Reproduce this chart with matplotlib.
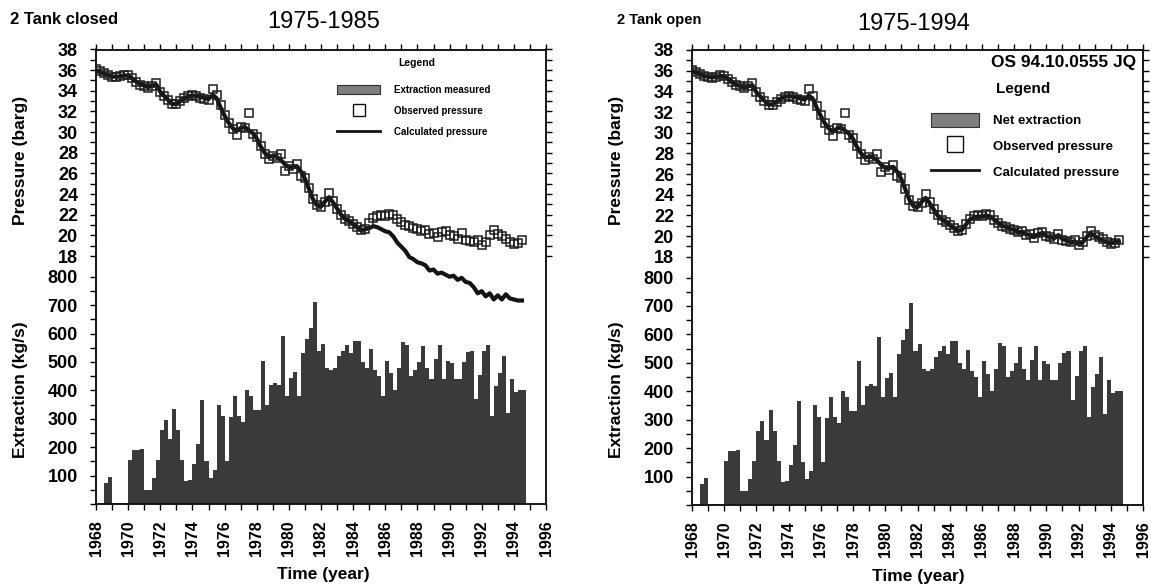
import numpy as np
import matplotlib
matplotlib.use("Agg")
import matplotlib.pyplot as plt
from matplotlib.ticker import FixedLocator, MultipleLocator
from matplotlib.patches import Patch
from matplotlib.lines import Line2D

plt.rcParams['font.family'] = ['Liberation Sans', 'DejaVu Sans']

# ---------------------------------------------------------------- data
# Quarterly extraction rate (kg/s), first quarter starts 1968.5
extraction_start = 1968.5
extraction = [
    75, 95,
    5, 5, 5, 5,
    155, 190, 190, 195,
    50, 50, 90, 155,
    260, 295, 230, 335,
    260, 155, 80, 85,
    140, 210, 365, 150,
    90, 120, 350, 310,
    150, 305, 380, 310,
    290, 400, 380, 330,
    330, 505, 350, 420,
    425, 420, 590, 380,
    445, 465, 380, 530,
    580, 620, 710, 540,
    565, 480, 470, 480,
    520, 540, 560, 530,
    575, 575, 500, 480,
    545, 470, 450, 380,
    505, 460, 400, 480,
    570, 560, 450, 470,
    500, 555, 480, 440,
    510, 560, 440, 505,
    495, 440, 440, 500,
    535, 540, 370, 455,
    540, 560, 310, 415,
    460, 520, 320, 440,
    395, 400, 400,
]

# Quarterly observed reservoir pressure (barg), from 1968.0
pressure_start = 1968.0
observed = [
    36.1, 35.9, 35.7, 35.5,
    35.35, 35.3, 35.4, 35.55,
    35.5, 35.2, 34.9, 34.6,
    34.5, 34.3, 34.5, 34.8,
    33.9, 33.5, 33.1, 32.7,
    32.7, 33.0, 33.3, 33.5,
    33.6, 33.5, 33.3, 33.2,
    33.1, 34.2, 33.6, 32.6,
    31.7, 30.9, 30.3, 29.7,
    30.5, 30.4, 31.9, 29.8,
    29.5, 28.7, 27.9, 27.4,
    27.7, 27.5, 27.9, 26.2,
    26.7, 26.4, 26.9, 25.8,
    25.6, 24.6, 23.5, 22.9,
    22.8, 23.2, 24.1, 23.3,
    22.6, 22.0, 21.6, 21.4,
    21.1, 20.8, 20.5, 20.6,
    21.2, 21.7, 21.9, 22.0,
    21.9, 22.1, 22.0, 21.6,
    21.3, 21.0, 20.9, 20.7,
    20.6, 20.4, 20.5, 20.1,
    20.2, 19.8, 20.3, 20.4,
    20.0, 19.9, 19.7, 20.2,
    19.6, 19.5, 19.4, 19.6,
    19.1, 19.4, 20.0, 20.5,
    20.1, 19.9, 19.7, 19.4,
    19.2, 19.3, 19.6,
]

# Calculated pressure, open two-tank model (barg), from 1968.0
calc_open = [
    36.0, 35.85, 35.7, 35.5,
    35.4, 35.35, 35.4, 35.5,
    35.45, 35.2, 34.9, 34.65,
    34.5, 34.35, 34.5, 34.6,
    33.9, 33.5, 33.1, 32.7,
    32.75, 33.0, 33.3, 33.45,
    33.55, 33.5, 33.4, 33.3,
    33.2, 33.6, 33.3, 32.4,
    31.6, 30.9, 30.4, 30.1,
    30.4, 30.5, 30.2, 29.9,
    29.4, 28.6, 28.0, 27.6,
    27.7, 27.6, 27.3, 26.9,
    26.6, 26.6, 26.7, 26.2,
    25.5, 24.5, 23.5, 22.9,
    22.8, 23.3, 23.7, 23.2,
    22.6, 22.0, 21.6, 21.4,
    21.1, 20.8, 20.5, 20.6,
    21.1, 21.6, 21.8, 21.9,
    21.9, 22.0, 21.9, 21.6,
    21.3, 21.0, 20.9, 20.7,
    20.6, 20.4, 20.4, 20.2,
    20.1, 19.9, 20.2, 20.3,
    20.0, 19.9, 19.8, 20.1,
    19.7, 19.6, 19.4, 19.5,
    19.2, 19.4, 19.9, 20.3,
    20.0, 19.8, 19.6, 19.4,
    19.3, 19.4, 19.5,
]

# Calculated pressure, closed two-tank model, after the 1985 split (barg)
closed_split_year = 1985.0
calc_closed_tail = [
    20.7, 20.9, 20.8, 20.6,
    20.4, 20.3, 19.9, 19.3,
    18.9, 18.5, 17.9, 17.7,
    17.4, 17.3, 17.1, 16.6,
    16.7, 16.3, 16.4, 16.2,
    16.0, 16.1, 15.7, 15.9,
    15.5, 15.4, 15.0, 14.4,
    14.6, 14.1, 14.4, 13.8,
    14.2, 13.8, 14.3, 13.9,
    13.8, 13.7, 13.7,
]

year_ticks = list(range(1968, 1997, 2))
pressure_ticks = list(range(18, 39, 2))
extraction_ticks = list(range(100, 801, 100))

# ---------------------------------------------------------------- layout
W, H = 1151, 587
fig = plt.figure(figsize=(W / 100, H / 100), dpi=100)
fig.patch.set_facecolor('white')

STEP = 0.25
ext_t = extraction_start + STEP * np.arange(len(extraction))
p_t = pressure_start + STEP * np.arange(len(observed))
c_t = pressure_start + STEP * np.arange(len(calc_open))
split_idx = int(round((closed_split_year - pressure_start) / STEP))
closed_t = np.concatenate([c_t[:split_idx],
                           closed_split_year + STEP * np.arange(len(calc_closed_tail))])
calc_closed = list(calc_open[:split_idx]) + calc_closed_tail

BAR = '#3a3a3a'
INK = '#141414'


def add_axes_px(x0, y0, x1, y1):
    return fig.add_axes([x0 / W, 1 - y1 / H, (x1 - x0) / W, (y1 - y0) / H])


def style_ticks(ax):
    for lbl in ax.get_xticklabels() + ax.get_yticklabels():
        lbl.set_fontweight('bold')


def draw_panel(box, calc_t, calc_v):
    ax_e = add_axes_px(*box)
    ax_e.bar(ext_t, extraction, width=STEP, align='edge', color=BAR, linewidth=0)
    ax_e.set_xlim(1968, 1996)
    ax_e.set_ylim(0, 1600)
    ax_e.set_xticks(year_ticks)
    ax_e.set_xticklabels([str(y) for y in year_ticks])
    ax_e.xaxis.set_minor_locator(MultipleLocator(1))
    ax_e.yaxis.set_major_locator(FixedLocator(extraction_ticks))
    ax_e.yaxis.set_minor_locator(FixedLocator(list(range(0, 801, 50))))
    ax_e.tick_params(axis='x', which='both', direction='out', length=4, width=1,
                     top=True, bottom=True, labelsize=11.5, labelrotation=90, pad=8)
    ax_e.tick_params(axis='y', which='both', direction='out', length=4, width=1,
                     left=True, right=True, labelleft=True, labelright=False,
                     labelsize=13, pad=9)

    ax_p = ax_e.twinx()
    ax_p.set_ylim(-6, 38)
    ax_p.yaxis.set_major_locator(FixedLocator(pressure_ticks))
    ax_p.yaxis.set_minor_locator(FixedLocator(list(range(18, 39))))
    ax_p.tick_params(axis='y', which='both', direction='out', length=4, width=1,
                     left=True, right=True, labelleft=True, labelright=False,
                     labelsize=13, pad=9)
    ax_p.plot(calc_t, calc_v, color=INK, lw=3.0, solid_joinstyle='round', zorder=3)
    ax_p.plot(p_t, observed, ls='none', marker='s', ms=5.6, mfc='none',
              mec='#1e1e1e', mew=1.1, zorder=4)

    for a in (ax_e, ax_p):
        for s in a.spines.values():
            s.set_linewidth(1.1)
            s.set_color('#111111')
    style_ticks(ax_e)
    style_ticks(ax_p)
    return ax_e, ax_p


# ---------------------------------------------------------------- left: closed tank
L_BOX = (96, 49.5, 546, 504)
axL, apL = draw_panel(L_BOX, closed_t, calc_closed)

handles_L = [Patch(facecolor='#7e7e7e', edgecolor='#303030', linewidth=0.8),
             Line2D([], [], ls='none', marker='s', ms=9, mfc='white', mec='#111111', mew=1.0),
             Line2D([], [], color=INK, lw=2.0)]
legL = apL.legend(handles_L, ['Extraction measured', 'Observed pressure', 'Calculated pressure'],
                  loc='upper left', bbox_to_anchor=(0.536, 0.922), frameon=False,
                  prop={'size': 7, 'weight': 'bold'}, handlelength=4.4, handleheight=1.1,
                  labelspacing=1.15, handletextpad=1.4, borderpad=0, borderaxespad=0)
apL.text(0.713, 0.971, 'Legend', transform=apL.transAxes, ha='center', va='center',
         fontsize=7.5, fontweight='bold')

fig.text(10 / W, 1 - 20 / H, '2 Tank closed', ha='left', va='center',
         fontsize=12, fontweight='bold')
fig.text(324 / W, 1 - 22 / H, '1975-1985', ha='center', va='center', fontsize=17)
fig.text(20.5 / W, 1 - 160 / H, 'Pressure (barg)', rotation=90, ha='center', va='center',
         fontsize=12.5, fontweight='bold')
fig.text(20.5 / W, 1 - 390 / H, 'Extraction (kg/s)', rotation=90, ha='center', va='center',
         fontsize=12.5, fontweight='bold')
fig.text(323 / W, 1 - 575 / H, 'Time (year)', ha='center', va='center',
         fontsize=12.5, fontweight='bold')

# ---------------------------------------------------------------- right: open tank
R_BOX = (692, 50, 1143, 505)
axR, apR = draw_panel(R_BOX, c_t, calc_open)

handles_R = [Patch(facecolor='#7e7e7e', edgecolor='#303030', linewidth=0.8),
             Line2D([], [], ls='none', marker='s', ms=11.5, mfc='white', mec='#111111', mew=1.0),
             Line2D([], [], color=INK, lw=2.0)]
legR = apR.legend(handles_R, ['Net extraction', 'Observed pressure', 'Calculated pressure'],
                  loc='upper left', bbox_to_anchor=(0.53, 0.862), frameon=False,
                  prop={'size': 9.5, 'weight': 'bold'}, handlelength=3.6, handleheight=1.3,
                  labelspacing=0.85, handletextpad=1.1, borderpad=0, borderaxespad=0)
apR.text(0.735, 0.915, 'Legend', transform=apR.transAxes, ha='center', va='center',
         fontsize=11, fontweight='bold')
apR.text(0.985, 0.973, 'OS 94.10.0555 JQ', transform=apR.transAxes, ha='right', va='center',
         fontsize=12.5, fontweight='bold')

fig.text(617 / W, 1 - 20 / H, '2 Tank open', ha='left', va='center',
         fontsize=10.5, fontweight='bold')
fig.text(914 / W, 1 - 24 / H, '1975-1994', ha='center', va='center', fontsize=17)
fig.text(616 / W, 1 - 160 / H, 'Pressure (barg)', rotation=90, ha='center', va='center',
         fontsize=12.5, fontweight='bold')
fig.text(616 / W, 1 - 390 / H, 'Extraction (kg/s)', rotation=90, ha='center', va='center',
         fontsize=12.5, fontweight='bold')
fig.text(918 / W, 1 - 577 / H, 'Time (year)', ha='center', va='center',
         fontsize=12.5, fontweight='bold')

fig.savefig('out.png', dpi=100, facecolor='white')
